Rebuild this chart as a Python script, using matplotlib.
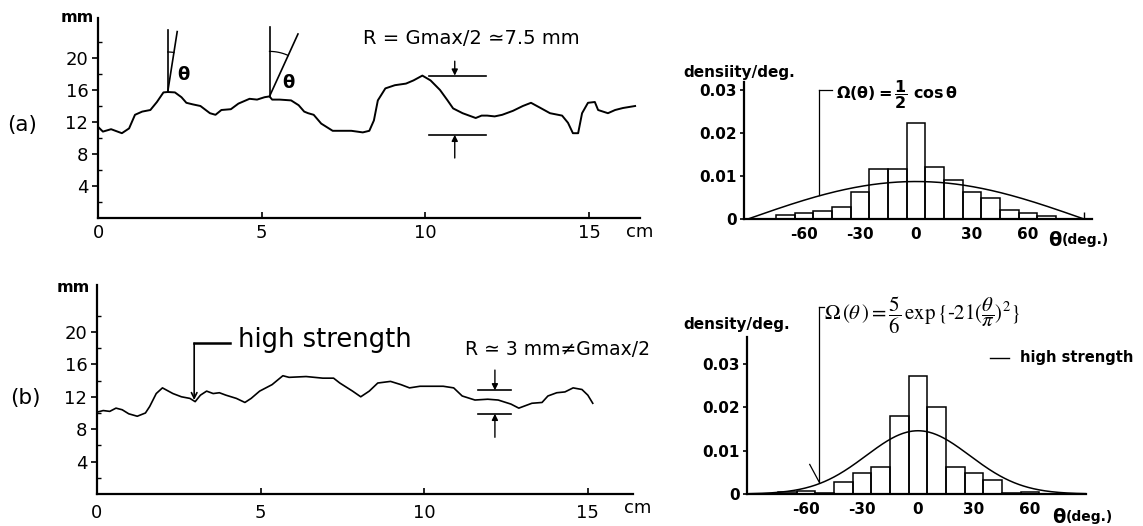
import numpy as np
import matplotlib
matplotlib.use('Agg')
import matplotlib.pyplot as plt

plt.rcParams['font.family'] = ['DejaVu Sans']
plt.rcParams['axes.unicode_minus'] = False
plt.rcParams['mathtext.fontset'] = 'dejavusans'

# ---------------- data ----------------
# (a) surface profile, position (cm) vs height (mm)
prof_a_x = [0.0, 0.15, 0.40, 0.73, 0.95, 1.13, 1.35, 1.60, 1.80, 2.00, 2.13, 2.35, 2.55, 2.70,
            2.90, 3.13, 3.42, 3.59, 3.77, 4.06, 4.29, 4.63, 4.86, 5.09, 5.24, 5.32, 5.55,
            5.90, 6.13, 6.30, 6.42, 6.59, 6.82, 7.17, 7.74, 8.09, 8.29, 8.43, 8.55, 8.78,
            9.07, 9.41, 9.64, 9.91, 10.16, 10.45, 10.68, 10.85, 11.14, 11.54, 11.72, 11.89,
            12.12, 12.35, 12.68, 12.98, 13.23, 13.50, 13.81, 14.18, 14.36, 14.51, 14.67,
            14.79, 14.97, 15.18, 15.28, 15.58, 15.80, 16.04, 16.41]
prof_a_y = [11.4, 10.8, 11.1, 10.6, 11.2, 12.9, 13.3, 13.5, 14.5, 15.7, 15.75, 15.7, 15.1, 14.4,
            14.2, 14.0, 13.1, 12.9, 13.5, 13.6, 14.3, 14.9, 14.8, 15.1, 15.2, 14.8, 14.8,
            14.7, 14.1, 13.3, 13.1, 12.9, 11.8, 10.9, 10.9, 10.7, 10.9, 12.2, 14.7, 16.2,
            16.6, 16.8, 17.2, 17.8, 17.2, 16.0, 14.7, 13.7, 13.1, 12.5, 12.8, 12.8,
            12.7, 12.9, 13.4, 14.0, 14.4, 13.8, 13.1, 12.8, 11.9, 10.6, 10.6,
            13.1, 14.4, 14.5, 13.5, 13.1, 13.5, 13.75, 14.0]

# (b) surface profile (high strength)
prof_b_x = [0.0, 0.19, 0.39, 0.58, 0.77, 0.97, 1.23, 1.48, 1.61, 1.81, 2.00, 2.32, 2.58, 2.84,
            3.00, 3.16, 3.35, 3.55, 3.74, 3.94, 4.26, 4.52, 4.71, 4.97, 5.35, 5.68, 5.87,
            6.39, 6.90, 7.23, 7.42, 7.81, 8.06, 8.32, 8.58, 8.97, 9.29, 9.55, 9.87, 10.26,
            10.58, 10.90, 11.16, 11.55, 11.94, 12.26, 12.65, 12.89, 13.29, 13.60, 13.78,
            14.05, 14.30, 14.55, 14.82, 15.00, 15.15]
prof_b_y = [10.1, 10.3, 10.2, 10.6, 10.4, 9.9, 9.6, 10.0, 10.8, 12.4, 13.1, 12.4, 12.0, 11.8,
            11.4, 12.2, 12.7, 12.4, 12.5, 12.2, 11.8, 11.3, 11.8, 12.7, 13.5, 14.6, 14.4,
            14.5, 14.3, 14.3, 13.7, 12.7, 12.0, 12.7, 13.7, 13.9, 13.5, 13.1, 13.3, 13.3,
            13.3, 13.1, 12.1, 11.6, 11.7, 11.6, 11.1, 10.6, 11.2, 11.3, 12.1,
            12.5, 12.6, 13.1, 12.9, 12.2, 11.2]

# angle histograms (bin centres, deg) and density/deg
bin_centers = [-70, -60, -50, -40, -30, -20, -10, 0, 10, 20, 30, 40, 50, 60, 70]
bin_width = 10
hist_a = [0.0009, 0.0013, 0.0019, 0.0027, 0.0064, 0.0116, 0.0116, 0.0223, 0.0122,
          0.0091, 0.0064, 0.0048, 0.0022, 0.0013, 0.0007]
hist_b = [0.0004, 0.0007, 0.0003, 0.0027, 0.0048, 0.0062, 0.0179, 0.0271, 0.0201,
          0.0062, 0.0049, 0.0033, 0.0003, 0.0004, 0.0]

prof_yticks = [4, 8, 12, 16, 20]
prof_xticks = [0, 5, 10, 15]
hist_xticks = [-60, -30, 0, 30, 60]
hist_xticklabels = ['-60', '-30', '0', '30', '60']
hist_yticks = [0, 0.01, 0.02, 0.03]
hist_yticklabels = ['0', '0.01', '0.02', '0.03']

# theoretical curves (as labelled in the figure), per degree
theta_deg = np.linspace(-90, 90, 361)
th = np.radians(theta_deg)
omega_a = 0.5 * np.cos(th) * np.pi / 180
omega_b = 5 / 6 * np.exp(-21 * (th / np.pi) ** 2) * np.pi / 180

# ---------------- figure ----------------
W, H = 1143, 526
fig = plt.figure(figsize=(W / 100, H / 100), dpi=100)


def rect(x0, y0, x1, y1):
    return [x0 / W, 1 - y1 / H, (x1 - x0) / W, (y1 - y0) / H]


axA = fig.add_axes(rect(98, 18, 640, 218))
axB = fig.add_axes(rect(97, 285, 633, 494))
hA = fig.add_axes(rect(744, 82, 1092, 219))
hB = fig.add_axes(rect(747, 337, 1086, 494))

for ax in (axA, axB, hA, hB):
    ax.set_facecolor('none')
    for s in ('top', 'right'):
        ax.spines[s].set_visible(False)
    for s in ('left', 'bottom'):
        ax.spines[s].set_linewidth(1.6)

# profile axes
for ax, xmax, ymax in ((axA, 16.56, 25.0), (axB, 16.38, 25.8)):
    ax.set_xlim(0, xmax)
    ax.set_ylim(0, ymax)
    ax.set_yticks(prof_yticks)
    ax.set_yticks([2, 6, 10, 14, 18, 22], minor=True)
    ax.set_xticks(prof_xticks)
    ax.tick_params(axis='y', which='major', direction='out', length=4, width=1.2, pad=3,
                   labelsize=13)
    ax.tick_params(axis='y', which='minor', direction='in', length=3, width=1.0)
    ax.tick_params(axis='x', which='major', direction='in', length=4, width=1.2, labelsize=13)

axA.tick_params(axis='x', pad=4)
axB.tick_params(axis='x', pad=7)

axA.plot(prof_a_x, prof_a_y, color='black', lw=1.4, solid_joinstyle='round')
axB.plot(prof_b_x, prof_b_y, color='black', lw=1.2, solid_joinstyle='round')

# labels around profile plots
fig.text(77 / W, 1 - 17 / H, 'mm', ha='center', va='center', fontsize=11.5, fontweight='bold')
fig.text(73 / W, 1 - 287 / H, 'mm', ha='center', va='center', fontsize=11.5, fontweight='bold')
fig.text(640 / W, 1 - 232 / H, 'cm', ha='center', va='center', fontsize=13)
fig.text(638 / W, 1 - 508 / H, 'cm', ha='center', va='center', fontsize=13)
fig.text(22 / W, 1 - 125 / H, '(a)', ha='center', va='center', fontsize=15.5)
fig.text(25 / W, 1 - 398 / H, '(b)', ha='center', va='center', fontsize=15.5)


# --- (a) annotations: angle theta construction
def draw_angle(ax, base, vtop, ttop, r_px, label_xy):
    ax.plot([base[0], vtop[0]], [base[1], vtop[1]], color='black', lw=1.2)
    ax.plot([base[0], ttop[0]], [base[1], ttop[1]], color='black', lw=1.2)
    tr = ax.transData
    p0 = tr.transform(base)
    pt = tr.transform(ttop)
    a1 = np.arctan2(pt[1] - p0[1], pt[0] - p0[0])
    phis = np.linspace(a1, np.pi / 2, 20)
    pts = np.column_stack([p0[0] + r_px * np.cos(phis), p0[1] + r_px * np.sin(phis)])
    dpts = tr.inverted().transform(pts)
    ax.plot(dpts[:, 0], dpts[:, 1], color='black', lw=0.9)
    ax.text(label_xy[0], label_xy[1], 'θ', fontsize=13, fontweight='bold', ha='center',
            va='center')


draw_angle(axA, (2.13, 15.75), (2.13, 23.5), (2.42, 23.3), 40, (2.62, 17.9))
draw_angle(axA, (5.24, 15.2), (5.24, 23.9), (6.11, 23.0), 45, (5.83, 16.9))

# --- (a) R annotation
axA.text(8.1, 22.4, 'R = Gmax/2 ≃7.5 mm', fontsize=14, ha='left', va='center')
axA.plot([10.1, 11.85], [17.8, 17.8], color='black', lw=1.2)
axA.plot([10.1, 11.85], [10.4, 10.4], color='black', lw=1.2)
arw = dict(arrowstyle='-|>', color='black', lw=1.0, mutation_scale=9, shrinkA=0, shrinkB=0)
axA.annotate('', xy=(10.9, 17.8), xytext=(10.9, 19.6), arrowprops=arw)
axA.annotate('', xy=(10.9, 10.4), xytext=(10.9, 7.5), arrowprops=arw)

# --- (b) annotations
axB.text(4.3, 19.0, 'high strength', fontsize=18.5, ha='left', va='center')
axB.plot([2.97, 4.05], [18.6, 18.6], color='black', lw=1.8)
axB.annotate('', xy=(2.97, 11.6), xytext=(2.97, 18.6),
             arrowprops=dict(arrowstyle='->', color='black', lw=1.2, mutation_scale=10,
                             shrinkA=0, shrinkB=0))
axB.text(11.24, 17.8, 'R ≃ 3 mm≠Gmax/2', fontsize=13.5, ha='left', va='center')
axB.plot([11.64, 12.65], [12.8, 12.8], color='black', lw=1.2)
axB.plot([11.64, 12.65], [9.9, 9.9], color='black', lw=1.2)
axB.annotate('', xy=(12.16, 12.8), xytext=(12.16, 15.3), arrowprops=arw)
axB.annotate('', xy=(12.16, 9.9), xytext=(12.16, 7.0), arrowprops=arw)

# ---------------- histograms ----------------
for ax, hist, omega, xlim, ylim in ((hA, hist_a, omega_a, (-92.1, 94.3), 0.0319),
                                    (hB, hist_b, omega_b, (-91.6, 90.0), 0.0361)):
    ax.bar(bin_centers, hist, width=bin_width, facecolor='none', edgecolor='black', lw=1.1)
    ax.plot(theta_deg, omega, color='black', lw=1.1)
    ax.set_xlim(*xlim)
    ax.set_ylim(0, ylim)
    ax.set_xticks(hist_xticks)
    ax.set_xticklabels(hist_xticklabels, fontweight='bold')
    ax.set_yticks(hist_yticks)
    ax.set_yticklabels(hist_yticklabels, fontweight='bold')
    ax.tick_params(axis='x', length=0, labelsize=11, pad=6)
    ax.tick_params(axis='y', direction='out', length=3, width=1.2, labelsize=11, pad=2)

hA.set_xticks([90], minor=True)
hA.tick_params(axis='x', which='minor', direction='in', length=5, width=1.0)

fig.text(683 / W, 1 - 72 / H, 'densiity/deg.', fontsize=11, fontweight='bold', ha='left',
         va='center')
fig.text(683 / W, 1 - 325 / H, 'density/deg.', fontsize=11, fontweight='bold', ha='left',
         va='center')

# theta(deg.) axis labels
for ax, x, y in ((hA, 70.7, -0.0049), (hB, 71.8, -0.0053)):
    ax.text(x, y, 'θ', fontsize=14, fontweight='bold', ha='left', va='center', clip_on=False)
    ax.text(x + 7.5, y, '(deg.)', fontsize=10, fontweight='bold', ha='left', va='center',
            clip_on=False)

# (a) histogram formula and leader
hA.text(-43, 0.0290, r'$\mathbf{\Omega(\theta) = \dfrac{1}{2}\ cos\,\theta}$', fontsize=11.5,
        ha='left', va='center', clip_on=False)
hA.plot([-52, -52], [0.0300, 0.0055], color='black', lw=0.9, clip_on=False)
hA.plot([-52, -45], [0.0300, 0.0300], color='black', lw=0.9, clip_on=False)

# (b) histogram formula, leader and legend
hB.text(-50.5, 0.0410,
        r'$\Omega\,(\theta\,) = \dfrac{5}{6}\,\exp\{\text{-}21(\dfrac{\theta}{\pi})^{2}\}$',
        fontsize=15, ha='left', va='center', clip_on=False, math_fontfamily='stix')
hB.plot([-53, -53], [0.0430, 0.0028], color='black', lw=0.9, clip_on=False)
hB.plot([-53, -50.5], [0.0430, 0.0430], color='black', lw=0.9, clip_on=False)
hB.plot([-58, -53], [0.0068, 0.0028], color='black', lw=0.9, clip_on=False)
hB.plot([38.6, 49], [0.0313, 0.0313], color='black', lw=1.0, clip_on=False)
hB.text(54.6, 0.0313, 'high strength', fontsize=10.5, fontweight='bold', ha='left',
        va='center', clip_on=False)

fig.savefig('out.png', dpi=100)
